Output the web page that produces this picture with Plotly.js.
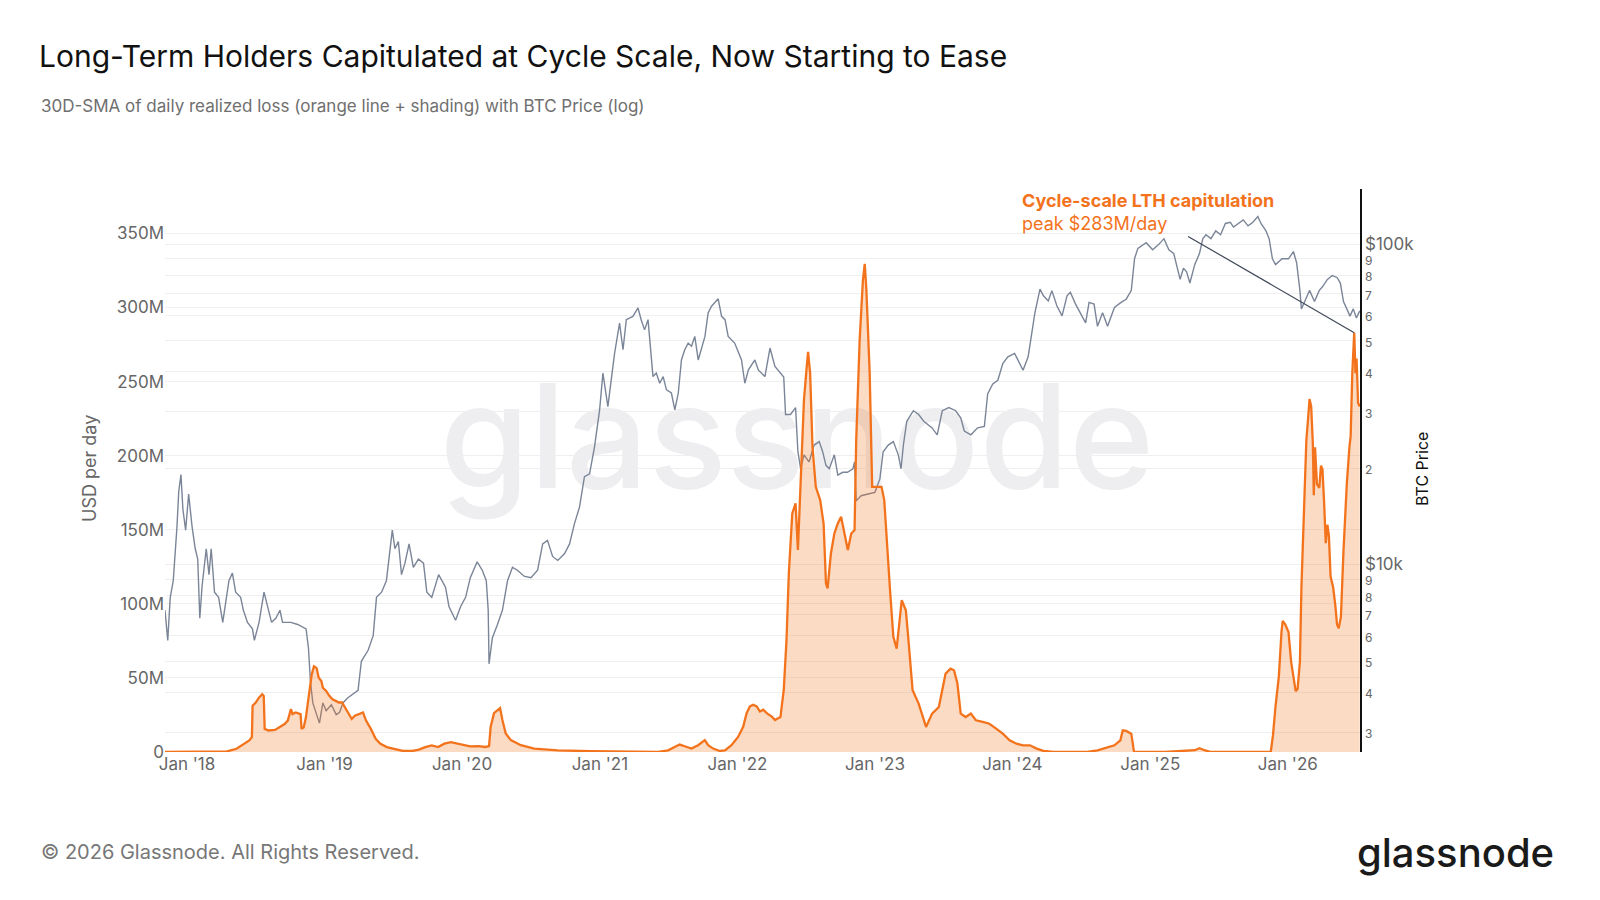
<!DOCTYPE html>
<html>
<head>
<meta charset="utf-8">
<script src="https://cdn.plot.ly/plotly-3.0.1.min.js"></script>
<style>
  html, body { margin: 0; padding: 0; background: #fff; }
  #chart { width: 1600px; height: 900px; }
</style>
</head>
<body>
<div id="chart"></div>
<script>
// BTC price (USD), dates as decimal years
var priceYears = [
  2017.84, 2017.86, 2017.878, 2017.90, 2017.927, 2017.94, 2017.956, 2017.97, 2017.99, 2018.012,
  2018.037, 2018.06, 2018.078, 2018.093, 2018.11, 2018.14, 2018.16, 2018.176, 2018.20, 2018.23,
  2018.26, 2018.28, 2018.305, 2018.33, 2018.354, 2018.39, 2018.41, 2018.44, 2018.476, 2018.49,
  2018.524, 2018.56, 2018.585, 2018.615, 2018.646, 2018.676, 2018.695, 2018.756, 2018.805, 2018.866,
  2018.883, 2018.898, 2018.915, 2018.94, 2018.963, 2018.988, 2019.012, 2019.05, 2019.085, 2019.11,
  2019.134, 2019.17, 2019.207, 2019.244, 2019.268, 2019.317, 2019.354, 2019.378, 2019.415, 2019.45,
  2019.493, 2019.512, 2019.537, 2019.56, 2019.585, 2019.615, 2019.646, 2019.683, 2019.72, 2019.744,
  2019.78, 2019.83, 2019.88, 2019.905, 2019.953, 2019.99, 2020.026, 2020.06, 2020.11, 2020.147,
  2020.176, 2020.19, 2020.196, 2020.22, 2020.257, 2020.293, 2020.33, 2020.366, 2020.402, 2020.45,
  2020.50, 2020.548, 2020.585, 2020.62, 2020.657, 2020.694, 2020.743, 2020.78, 2020.815, 2020.852,
  2020.888, 2020.925, 2020.961, 2020.998, 2021.022, 2021.058, 2021.107, 2021.143, 2021.168, 2021.192,
  2021.24, 2021.277, 2021.30, 2021.325, 2021.35, 2021.374, 2021.386, 2021.41, 2021.435, 2021.46,
  2021.484, 2021.52, 2021.545, 2021.57, 2021.593, 2021.617, 2021.642, 2021.666, 2021.69, 2021.715,
  2021.764, 2021.787, 2021.812, 2021.86, 2021.885, 2021.91, 2021.933, 2021.98, 2022.03, 2022.054,
  2022.08, 2022.127, 2022.152, 2022.20, 2022.237, 2022.273, 2022.31, 2022.337, 2022.35, 2022.386,
  2022.423, 2022.44, 2022.46, 2022.484, 2022.521, 2022.558, 2022.595, 2022.62, 2022.644, 2022.668,
  2022.705, 2022.73, 2022.766, 2022.80, 2022.84, 2022.852, 2022.864, 2022.90, 2022.95, 2023.0,
  2023.036, 2023.06, 2023.097, 2023.134, 2023.17, 2023.19, 2023.207, 2023.232, 2023.28, 2023.318,
  2023.355, 2023.416, 2023.453, 2023.49, 2023.538, 2023.587, 2023.624, 2023.65, 2023.698, 2023.747,
  2023.796, 2023.82, 2023.857, 2023.894, 2023.93, 2023.967, 2024.016, 2024.04, 2024.077, 2024.114,
  2024.139, 2024.163, 2024.20, 2024.225, 2024.26, 2024.286, 2024.323, 2024.36, 2024.396, 2024.42,
  2024.458, 2024.494, 2024.531, 2024.556, 2024.592, 2024.617, 2024.654, 2024.69, 2024.74, 2024.788,
  2024.825, 2024.862, 2024.886, 2024.91, 2024.97, 2025.017, 2025.064, 2025.099, 2025.135, 2025.17,
  2025.194, 2025.217, 2025.241, 2025.264, 2025.288, 2025.323, 2025.358, 2025.382, 2025.405, 2025.441,
  2025.476, 2025.511, 2025.546, 2025.582, 2025.605, 2025.641, 2025.676, 2025.711, 2025.746, 2025.782,
  2025.805, 2025.841, 2025.864, 2025.888, 2025.911, 2025.958, 2026.005, 2026.041, 2026.064, 2026.088,
  2026.099, 2026.123, 2026.158, 2026.194, 2026.229, 2026.252, 2026.288, 2026.323, 2026.358, 2026.382,
  2026.405, 2026.429, 2026.452, 2026.476, 2026.499, 2026.523
];
var priceUsd = [
  7200, 5800, 7900, 8900, 13100, 16900, 19100, 14900, 12800, 16600,
  13100, 11200, 10400, 6800, 8600, 11200, 9300, 11200, 8200, 7900,
  6600, 7600, 8900, 9400, 8200, 7900, 7200, 6600, 6300, 5800,
  6600, 8200, 7400, 6600, 6800, 7200, 6600, 6600, 6500, 6300,
  5500, 4300, 3700, 3400, 3200, 3700, 3500, 3650, 3400, 3460,
  3700, 3840, 3940, 4050, 4990, 5400, 6000, 7900, 8200, 8900,
  12800, 11200, 11800, 9300, 10100, 11600, 9800, 10400, 10100, 8200,
  7900, 9300, 8500, 7400, 6700, 7400, 7900, 9100, 10200, 9600,
  8900, 7200, 4900, 5900, 6500, 7200, 8900, 9800, 9600, 9200,
  9100, 9600, 11600, 11900, 10600, 10300, 10800, 11600, 13400, 15100,
  18800, 19200, 23300, 30400, 39600, 31100, 45700, 56700, 46800, 58100,
  59500, 63200, 58100, 54000, 58100, 42500, 38600, 39600, 36800, 38600,
  35100, 34300, 30400, 34300, 43500, 46800, 49100, 48000, 51500, 43500,
  51500, 61000, 64000, 67500, 59500, 58100, 51500, 49100, 43500, 36800,
  40500, 43500, 40500, 38600, 47400, 41500, 39600, 38500, 29400, 29400,
  30900, 22500, 19900, 22000, 20900, 23600, 24200, 22500, 20400, 19900,
  22000, 19000, 19400, 19400, 19900, 20900, 15800, 16400, 16600, 16800,
  18500, 22500, 23600, 24200, 22000, 19900, 23600, 28000, 30200, 29400,
  28000, 26700, 25400, 30200, 30900, 30200, 28700, 26100, 25400, 26700,
  27000, 34100, 36600, 37600, 42400, 44500, 45600, 43500, 40400, 44500,
  51500, 61000, 72400, 69000, 66500, 71600, 64100, 59700, 69000, 70800,
  65000, 61100, 56800, 65800, 65000, 55400, 61100, 55400, 63400, 65800,
  67300, 71600, 90200, 97000, 101000, 96000, 100000, 104000, 96000, 93600,
  84100, 77600, 84100, 81900, 75600, 86300, 93600, 104000, 107000, 104000,
  110000, 107000, 116000, 117000, 113000, 116000, 119000, 114000, 117000, 122000,
  116000, 110000, 104000, 90000, 86300, 90000, 90000, 94800, 87500, 71700,
  62800, 66200, 71700, 66200, 71700, 73600, 77600, 79800, 78700, 75600,
  66200, 62800, 59600, 62800, 58800, 61900
];

// LTH realized loss, 30D-SMA, millions of USD per day
var lossYears = [
  2017.84, 2018.29, 2018.36, 2018.42, 2018.453, 2018.472, 2018.477, 2018.50, 2018.523, 2018.547,
  2018.558, 2018.565, 2018.593, 2018.64, 2018.674, 2018.71, 2018.733, 2018.756, 2018.767, 2018.79,
  2018.826, 2018.833, 2018.849, 2018.865, 2018.884, 2018.907, 2018.923, 2018.942, 2018.958, 2018.977,
  2018.988, 2019.012, 2019.035, 2019.058, 2019.081, 2019.105, 2019.128, 2019.163, 2019.198, 2019.221,
  2019.256, 2019.28, 2019.302, 2019.337, 2019.372, 2019.407, 2019.453, 2019.50, 2019.57, 2019.64,
  2019.686, 2019.733, 2019.78, 2019.826, 2019.872, 2019.919, 2019.965, 2020.012, 2020.058, 2020.12,
  2020.17, 2020.196, 2020.208, 2020.232, 2020.257, 2020.276, 2020.293, 2020.317, 2020.354, 2020.427,
  2020.524, 2020.694, 2020.937, 2021.18, 2021.423, 2021.496, 2021.544, 2021.58, 2021.617, 2021.666,
  2021.714, 2021.763, 2021.787, 2021.824, 2021.872, 2021.909, 2021.957, 2022.006, 2022.042, 2022.067,
  2022.091, 2022.115, 2022.14, 2022.164, 2022.188, 2022.213, 2022.25, 2022.273, 2022.313, 2022.337,
  2022.357, 2022.374, 2022.399, 2022.423, 2022.44, 2022.46, 2022.484, 2022.504, 2022.514, 2022.529,
  2022.546, 2022.57, 2022.602, 2022.627, 2022.644, 2022.656, 2022.68, 2022.705, 2022.73, 2022.754,
  2022.779, 2022.803, 2022.828, 2022.852, 2022.864, 2022.889, 2022.913, 2022.926, 2022.938, 2022.962,
  2022.98, 2023.011, 2023.048, 2023.068, 2023.085, 2023.11, 2023.134, 2023.158, 2023.195, 2023.225,
  2023.244, 2023.274, 2023.318, 2023.372, 2023.416, 2023.465, 2023.514, 2023.55, 2023.575, 2023.60,
  2023.624, 2023.66, 2023.698, 2023.734, 2023.784, 2023.832, 2023.882, 2023.93, 2023.98, 2024.029,
  2024.077, 2024.127, 2024.176, 2024.225, 2024.298, 2024.543, 2024.617, 2024.666, 2024.74, 2024.783,
  2024.80, 2024.825, 2024.862, 2024.882, 2025.107, 2025.323, 2025.358, 2025.394, 2025.441, 2025.876,
  2025.892, 2025.911, 2025.935, 2025.954, 2025.963, 2025.982, 2026.005, 2026.024, 2026.041, 2026.057,
  2026.071, 2026.088, 2026.099, 2026.118, 2026.135, 2026.146, 2026.158, 2026.17, 2026.182, 2026.189,
  2026.198, 2026.212, 2026.229, 2026.241, 2026.252, 2026.264, 2026.276, 2026.288, 2026.299, 2026.311,
  2026.33, 2026.346, 2026.358, 2026.37, 2026.386, 2026.405, 2026.429, 2026.448, 2026.457, 2026.469,
  2026.483, 2026.492, 2026.50, 2026.511, 2026.523
];
var lossMillions = [
  0, 0.4, 2.2, 5.6, 7.8, 10, 31.2, 33.4, 36.7, 39,
  37.9, 15.6, 14.5, 14.9, 16.7, 18.9, 21.2, 29, 25.6, 26.7,
  25.6, 15.6, 16.7, 23.4, 36.7, 52.3, 57.9, 56.8, 50.1, 47.9,
  43.4, 41.2, 37.9, 35.6, 34.5, 33.4, 33.4, 27.8, 22.3, 24.5,
  25.6, 26.7, 21.2, 15.6, 8.9, 5.6, 3.3, 2.2, 0.7, 0.7,
  1.6, 3.3, 4.5, 3.3, 5.6, 6.7, 5.6, 4.5, 3.8, 4.0,
  3.4, 4.0, 17, 26.2, 28.5, 29.6, 21.6, 12.5, 8, 4.6,
  2.3, 1.1, 0.5, 0, 0, 1.1, 3.4, 5, 3.9, 2.3,
  4.6, 8, 4.6, 2.3, 0.7, 1.1, 4.6, 10.3, 17, 26.2,
  30.8, 31.9, 30.8, 27.3, 28.5, 26.2, 23.9, 21.6, 23.6, 41.7,
  75.5, 120.5, 161, 167.8, 136.3, 188, 237.6, 260, 270, 255.6,
  206, 179, 170, 154, 113.7, 110.4, 134, 147.5, 154.3, 158.8,
  147.5, 136.3, 147.5, 149.8, 210.6, 278, 318.7, 329.5, 312, 255.6,
  179, 179, 179, 170, 143, 109.2, 77.7, 69.8, 102.5, 95.7,
  75.5, 41.7, 32.7, 16.9, 25.9, 30.4, 52.9, 56.3, 55.2, 46.2,
  25.9, 23.6, 25.9, 21.4, 20.3, 19.1, 15.8, 12.4, 7.9, 5.6,
  4.5, 4.5, 2.3, 0.7, 0, 0, 1.1, 2.3, 4.5, 7.9,
  14.6, 14.2, 12.4, 0, 0, 1.2, 2.5, 1.2, 0, 0,
  11.2, 31.2, 51.1, 81, 88.5, 86, 81, 61, 51.1, 41.1,
  42.4, 61, 111, 160.8, 210.7, 223.2, 238.2, 233.2, 208.2, 173.3,
  205.7, 180.8, 178.3, 193.3, 190.8, 168.3, 140.9, 153.4, 145.9, 118.5,
  111, 98.5, 86, 83.5, 91, 135.9, 180.8, 205.7, 213.2, 255.6,
  283, 255.6, 265.6, 235.7, 233.2
];

// right axis ticks (log)
var priceTickVals = [3000, 4000, 5000, 6000, 7000, 8000, 9000, 10000,
  20000, 30000, 40000, 50000, 60000, 70000, 80000, 90000, 100000];
var priceTickText = ['3', '4', '5', '6', '7', '8', '9', '$10k',
  '2', '3', '4', '5', '6', '7', '8', '9', '$100k'];

var ORANGE = '#f3731c';
var FONT = 'Inter, "Noto Sans", sans-serif';

function yearToDate(t) {
  var y = Math.floor(t);
  var start = Date.UTC(y, 0, 1), end = Date.UTC(y + 1, 0, 1);
  return new Date(start + (t - y) * (end - start)).toISOString().slice(0, 16).replace('T', ' ');
}

var priceX = priceYears.map(yearToDate);
var lossX = lossYears.map(yearToDate);
var lossY = lossMillions.map(function (v) { return v * 1e6; });

// peak of the recent capitulation (after 2025)
var peakIdx = -1;
for (var i = 0; i < lossMillions.length; i++) {
  if (lossYears[i] < 2025) continue;
  if (peakIdx < 0 || lossMillions[i] > lossMillions[peakIdx]) peakIdx = i;
}

var tickText = priceTickText.map(function (t) {
  return t.charAt(0) === '$' ? t : '<span style="font-size:12px">' + t + '</span>';
});

var price = {
  x: priceX, y: priceUsd, yaxis: 'y',
  type: 'scatter', mode: 'lines',
  line: { color: '#7b8598', width: 1.4 },
  hoverinfo: 'skip'
};
var loss = {
  x: lossX, y: lossY, yaxis: 'y2',
  type: 'scatter', mode: 'lines',
  fill: 'tozeroy', fillcolor: 'rgba(243,115,28,0.26)',
  line: { color: ORANGE, width: 2.3 },
  hoverinfo: 'skip'
};

var wm = '<svg xmlns="http://www.w3.org/2000/svg" width="800" height="200" viewBox="0 0 800 200">' +
  '<text x="400" y="140" text-anchor="middle" font-family="Inter, sans-serif" font-size="145" ' +
  'font-weight="500" fill="#eeeef0">glassnode</text></svg>';

var W = 1195, H = 563;

var layout = {
  width: 1600, height: 900,
  margin: { l: 165, r: 240, t: 189, b: 148 },
  paper_bgcolor: '#fff', plot_bgcolor: '#fff',
  showlegend: false,
  font: { family: FONT, color: '#666', size: 17 },
  title: {
    text: 'Long-Term Holders Capitulated at Cycle Scale, Now Starting to Ease',
    xref: 'container', yref: 'container',
    x: 39 / 1600, xanchor: 'left', y: 1 - 56 / 900, yanchor: 'middle',
    font: { family: FONT, size: 30, color: '#111' }
  },
  xaxis: {
    type: 'date',
    range: [yearToDate(2017.84), yearToDate(2026.525)],
    tick0: '2018-01-01', dtick: 'M12', tickformat: "%b '%y",
    showgrid: false, zeroline: false, showline: false, ticks: '',
    tickfont: { size: 17, color: '#666' }
  },
  yaxis: {
    type: 'log', side: 'right',
    range: [Math.log10(2600), Math.log10(148600)],
    tickvals: priceTickVals, ticktext: tickText,
    showgrid: true, gridcolor: '#efefef', gridwidth: 1,
    showline: true, linecolor: '#111', linewidth: 1.6,
    ticks: '', zeroline: false,
    tickfont: { size: 17, color: '#666' }
  },
  yaxis2: {
    overlaying: 'y', side: 'left',
    range: [0, 380e6], dtick: 50e6, tickformat: '~s',
    showgrid: true, gridcolor: '#efefef', gridwidth: 1,
    showline: false, zeroline: false, ticks: '',
    tickfont: { size: 17, color: '#666' }
  },
  images: [{
    source: 'data:image/svg+xml;charset=utf-8,' + encodeURIComponent(wm),
    xref: 'paper', yref: 'paper',
    x: (797 - 165) / W, y: (752 - 448) / H,
    sizex: 800 / W, sizey: 200 / H,
    xanchor: 'center', yanchor: 'middle', sizing: 'stretch', layer: 'below'
  }],
  shapes: [{
    type: 'line', xref: 'x', yref: 'y2', layer: 'above',
    x0: yearToDate(2025.275), y0: 348e6,
    x1: lossX[peakIdx], y1: lossY[peakIdx],
    line: { color: '#3e4757', width: 1.2 }
  }],
  annotations: [
    {
      text: '30D-SMA of daily realized loss (orange line + shading) with BTC Price (log)',
      xref: 'paper', yref: 'paper', x: (39 - 165) / W, y: (752 - 106) / H,
      xanchor: 'left', yanchor: 'middle', showarrow: false,
      font: { size: 17, color: '#6f6f6f' }
    },
    {
      text: 'USD per day', textangle: -90,
      xref: 'paper', yref: 'paper', x: (89 - 165) / W, y: (752 - 469) / H,
      xanchor: 'center', yanchor: 'middle', showarrow: false,
      font: { size: 18, color: '#666' }
    },
    {
      text: 'BTC Price', textangle: -90,
      xref: 'paper', yref: 'paper', x: (1422 - 165) / W, y: (752 - 469) / H,
      xanchor: 'center', yanchor: 'middle', showarrow: false,
      font: { size: 16, color: '#111' }
    },
    {
      text: '<b>Cycle-scale LTH capitulation</b><br>peak $' + Math.round(lossMillions[peakIdx]) + 'M/day',
      xref: 'paper', yref: 'paper', x: (1020 - 165) / W, y: (752 - 212) / H,
      xanchor: 'left', yanchor: 'middle', align: 'left', showarrow: false,
      font: { size: 18, color: ORANGE }
    },
    {
      text: '© 2026 Glassnode. All Rights Reserved.',
      xref: 'paper', yref: 'paper', x: (39 - 165) / W, y: (752 - 852) / H,
      xanchor: 'left', yanchor: 'middle', showarrow: false,
      font: { size: 20, color: '#777' }
    },
    {
      text: 'glassnode',
      xref: 'paper', yref: 'paper', x: (1556 - 165) / W, y: (752 - 852) / H,
      xanchor: 'right', yanchor: 'middle', showarrow: false,
      font: { size: 40, color: '#1a1a1a', weight: 500 }
    }
  ]
};

Plotly.newPlot('chart', [price, loss], layout, { staticPlot: true });
</script>
</body>
</html>
